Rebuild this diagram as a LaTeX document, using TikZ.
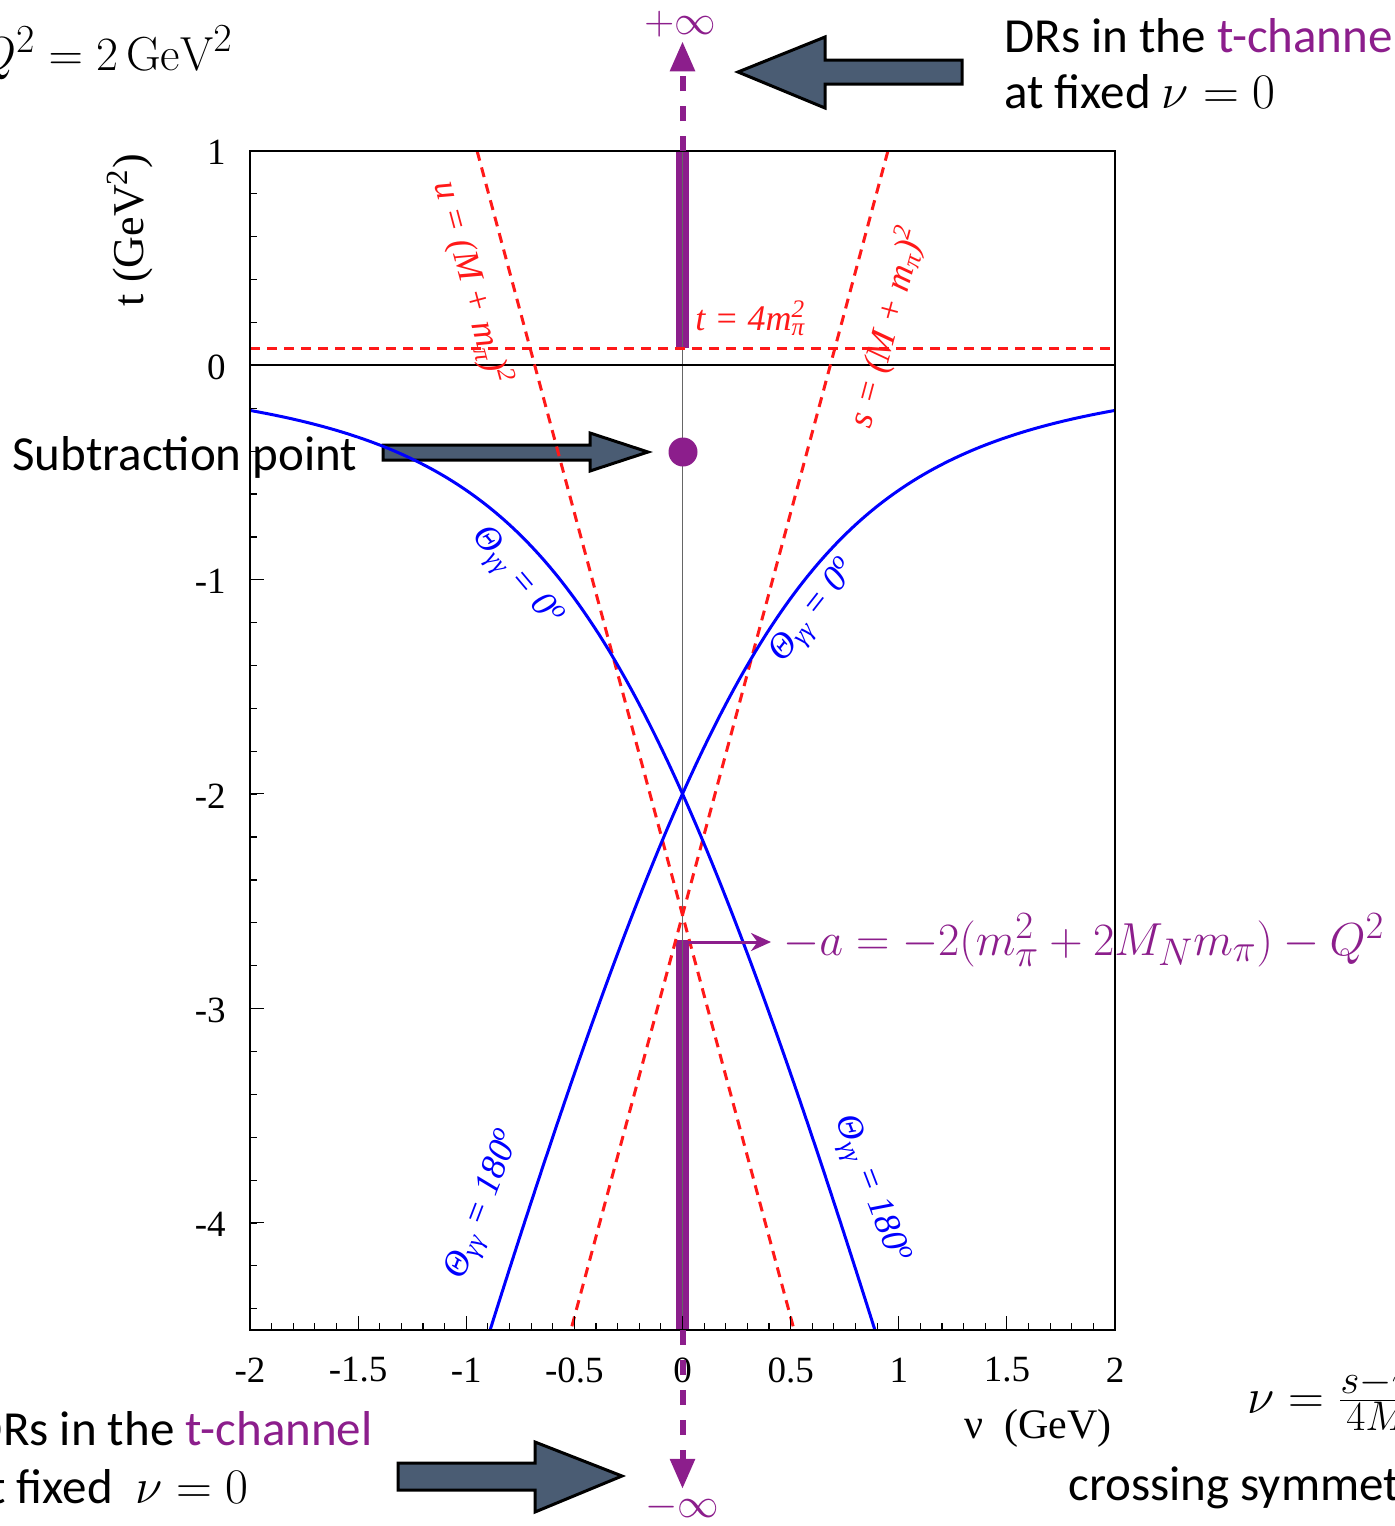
\documentclass[tikz,border=0pt]{standalone}
\usepackage{graphicx}
\usepackage{fontspec}
\newfontfamily\sansf{Carlito}
\newfontfamily\timesf{Liberation Serif}
\usetikzlibrary{arrows.meta}
\definecolor{purp}{RGB}{140,30,140}
\definecolor{slate}{RGB}{74,92,115}
\definecolor{redl}{RGB}{255,25,25}
\begin{document}
\begin{tikzpicture}[x=0.5pt,y=-0.5pt,
  declare function={
    rs(\w)=sqrt(\w+0.8798);
    qp(\w)=\w/(2*rs(\w));
    qz(\w)=(\w-2)/(2*rs(\w));
    qa(\w)=sqrt(qz(\w)*qz(\w)+2);
    tz(\w)=-2+2*qp(\w)*(qa(\w)-qz(\w));
    tb(\w)=-2-2*qp(\w)*(qa(\w)+qz(\w));
    nz(\w)=(2*\w+tz(\w)+2)/3.752;
    nb(\w)=(2*\w+tb(\w)+2)/3.752;
  },
  frameline/.style={line width=1pt},
  tickline/.style={line width=0.6pt},
  ticklab/.style={font=\timesf\fontsize{18.5}{20}\selectfont, inner sep=0pt},
  redd/.style={redl, line width=1.5pt, dash pattern=on 5pt off 3.5pt},
  bluec/.style={blue, line width=1.5pt},
  bigarrow/.style={fill=slate, draw=black, line width=1.5pt, line join=miter},
  sanstxt/.style={font=\sansf\fontsize{24.5}{28}\selectfont, inner sep=0pt},
  redlab/.style={redl, font=\timesf\itshape\fontsize{18}{20}\selectfont, inner sep=0pt},
  bluelab/.style={blue, font=\timesf\itshape\fontsize{18}{20}\selectfont, inner sep=0pt},
  purpdash/.style={purp, line width=3pt, dash pattern=on 7.5pt off 7.5pt, -{Triangle[length=15pt,width=12pt]}},
  purpbar/.style={purp, line width=6.5pt},
]
\useasboundingbox (0,0) rectangle (1394,1526);

% coordinates
\coordinate (ptop) at (682.5,151);
\coordinate (pbot) at (682.5,1330);
\coordinate (thr) at (682.5,348.3);
\coordinate (abar) at (682.5,940);
\coordinate (s1) at (887.9,151);
\coordinate (s2) at (570.9,1330);
\coordinate (u1) at (477.1,151);
\coordinate (u2) at (794.1,1330);

% purple bars
\draw[purpbar] (ptop) -- (thr);
\draw[purpbar] (abar) -- (pbot);

% big arrows
\draw[bigarrow] (738,72) -- (825,37) -- (825,60) -- (962,60) -- (962,84) -- (825,84) -- (825,108) -- cycle;
\draw[bigarrow] (622,1476) -- (535,1442) -- (535,1463) -- (398,1463) -- (398,1490) -- (535,1490) -- (535,1512) -- cycle;
\draw[bigarrow] (648,452) -- (590,433) -- (590,445) -- (383,445) -- (383,460) -- (590,460) -- (590,471) -- cycle;

% plot content
\begin{scope}
\clip (250,151) rectangle (1115,1330);
\draw[black!60, line width=0.7pt] (ptop) -- (pbot);
\draw[black, line width=0.7pt] (250,365) -- (1115,365);
\draw[redd] (250,348.3) -- (1115,348.3);
\draw[redd] (s1) -- (s2);
\draw[redd] (u1) -- (u2);
\draw[bluec] plot[variable=\w, domain=0:3, samples=120] ({682.5+216.25*nz(\w)},{365-214.4*tz(\w)});
\draw[bluec] plot[variable=\w, domain=0:3, samples=120] ({682.5-216.25*nz(\w)},{365-214.4*tz(\w)});
\draw[bluec] plot[variable=\w, domain=0:3.1, samples=120] ({682.5+216.25*nb(\w)},{365-214.4*tb(\w)});
\draw[bluec] plot[variable=\w, domain=0:3.1, samples=120] ({682.5-216.25*nb(\w)},{365-214.4*tb(\w)});
\end{scope}

% subtraction point dot
\node[circle, fill=purp, minimum size=14.5pt, inner sep=0pt] (dot) at (683,452) {};

% frame and ticks
\draw[frameline] (250,151) rectangle (1115,1330);
\foreach \k in {1,...,39} \draw[tickline] ({250+21.625*\k},1330) -- ++(0,-7);
\foreach \v in {-1.5,-1,-0.5,0,0.5,1,1.5} \draw[tickline] ({682.5+216.25*\v},1330) -- ++(0,-14);
\foreach \k in {1,...,27} \draw[tickline] (250,{151+42.88*\k}) -- ++(7,0);
\foreach \v in {0,-1,-2,-3,-4} \draw[tickline] (250,{365-214.4*\v}) -- ++(14,0);

% tick labels
\foreach \v/\lab [count=\i] in {-2/-2,-1.5/-1.5,-1/-1,-0.5/-0.5,0/0,0.5/0.5,1/1,1.5/1.5,2/2}
  \node[ticklab] (xl\i) at ({682.5+216.25*\v},1370) {\lab};
\foreach \v/\lab [count=\i] in {1/1,0/0,-1/-1,-2/-2,-3/-3,-4/-4}
  \node[ticklab, anchor=east] (yl\i) at (226,{367-214.4*\v}) {\lab};

% axis titles
\node[rotate=90, font=\timesf\fontsize{22}{24}\selectfont, inner sep=0pt] (tlab) at (130,230) {t (GeV\textsuperscript{2})};
\node[anchor=base east, font=\timesf\fontsize{21}{24}\selectfont, inner sep=0pt] (nlab) at (1112,1438) {ν\ \ (GeV)};

% red labels
\node[redlab, rotate=-75] (ulab) at (472,283) {u = (M + m\textsubscript{π})\textsuperscript{2}};
\node[redlab, rotate=75] (slab) at (887,327) {s = (M + m\textsubscript{π})\textsuperscript{2}};
\node[redlab, anchor=base west] (tthr) at (695,330) {t = 4m\rlap{\textsuperscript{2}}\textsubscript{π}};

% blue labels
\node[bluelab, rotate=-50] (b0l) at (516,578) {Θ\textsubscript{γγ} = 0\textsuperscript{o}};
\node[bluelab, rotate=52] (b0r) at (815,612) {Θ\textsubscript{γγ} = 0\textsuperscript{o}};
\node[bluelab, rotate=69] (b180l) at (485,1205) {Θ\textsubscript{γγ} = 180\textsuperscript{o}};
\node[bluelab, rotate=-69] (b180r) at (870,1190) {Θ\textsubscript{γγ} = 180\textsuperscript{o}};

% -a label and arrow
\node[purp, anchor=base west, font=\fontsize{24.88}{28}\selectfont, inner sep=0pt] (alab) at (783,955) {\scalebox{0.93}{$-a = -2(m_\pi^2 + 2M_N m_\pi) - Q^2$}};
\coordinate (aarr) at (688,942);
\draw[purp, line width=1.5pt, shorten >=6pt, -{Stealth[length=10pt,width=9pt]}] (aarr) -- (aarr -| alab.west);

% infinity labels and dashed arrows
\node[purp, font=\fontsize{20.74}{24}\selectfont, inner sep=0pt] (pinf) at (680,24) {$+\infty$};
\node[purp, font=\fontsize{20.74}{24}\selectfont, inner sep=0pt] (minf) at (682,1507) {$-\infty$};
\draw[purpdash] (ptop) -- ([yshift=-2pt]ptop |- pinf.south);
\draw[purpdash] (pbot) -- ([yshift=2pt]pbot |- minf.north);

% other texts
\node[anchor=base east, font=\fontsize{24.88}{28}\selectfont, inner sep=0pt] (q2) at (233,70) {\scalebox{0.96}{$Q^2 = 2\,\mathrm{GeV}^2$}};
\node[sanstxt, anchor=base west] (subtr) at (12,470) {Subtraction point};
\node[sanstxt, anchor=base west] (dr1) at (1004,52) {DRs in the {\color{purp}t-channel}};
\node[sanstxt, anchor=base west] (dr2) at (1004,108) {at fixed {\fontsize{24.88}{28}\selectfont$\nu = 0$}};
\node[sanstxt, anchor=base east] (dr3) at (373,1445) {DRs in the {\color{purp}t-channel}};
\node[sanstxt, anchor=base east] (dr4) at (249,1503) {at fixed\ \ {\fontsize{24.88}{28}\selectfont$\nu = 0$}};
\node[anchor=west, font=\fontsize{24.88}{28}\selectfont, inner sep=0pt] (nudef) at (1247,1400) {$\nu = \frac{s-u}{4M}$};
\node[sanstxt, anchor=base west] (cross) at (1068,1500) {crossing symmetry};
\end{tikzpicture}
\end{document}
